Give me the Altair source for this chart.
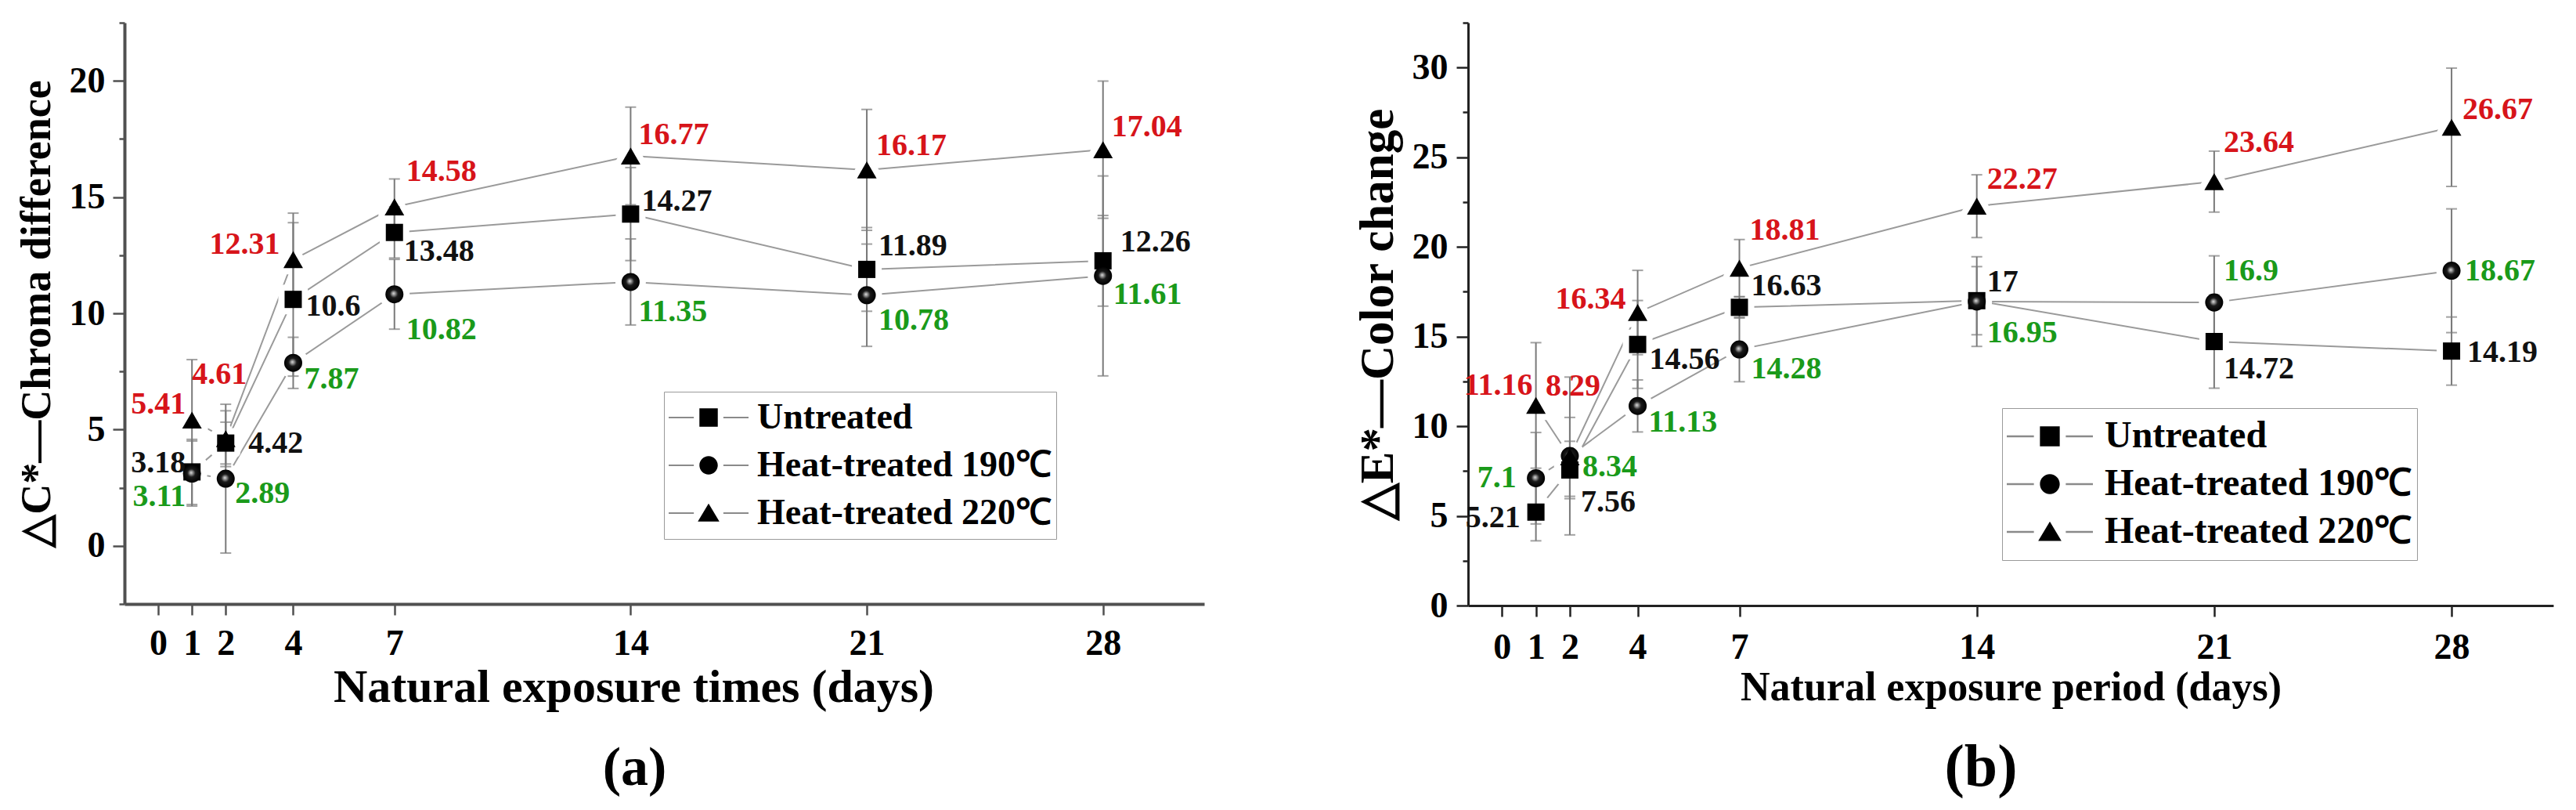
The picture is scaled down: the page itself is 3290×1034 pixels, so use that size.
import altair as alt
import pandas as pd

# ---------------- data ----------------
DAYS = [1, 2, 4, 7, 14, 21, 28]
SERIES = ["Untreated", "Heat-treated 190℃", "Heat-treated 220℃"]
X_TICKS = [0, 1, 2, 4, 7, 14, 21, 28]

# Panel (a): Chroma difference
DC_UNTREATED = [3.18, 4.42, 10.6, 13.48, 14.27, 11.89, 12.26]
DC_190 = [3.11, 2.89, 7.87, 10.82, 11.35, 10.78, 11.61]
DC_220 = [5.41, 4.61, 12.31, 14.58, 16.77, 16.17, 17.04]
DC_UNTREATED_SD = [1.4, 0.9, 3.3, 1.1, 2.0, 1.8, 1.95]
DC_190_SD = [1.4, 3.2, 1.1, 1.5, 1.85, 2.2, 4.3]
DC_220_SD = [2.6, 1.2, 2.0, 1.2, 2.1, 2.6, 2.95]

# Panel (b): Color change
DE_UNTREATED = [5.21, 7.56, 14.56, 16.63, 17, 14.72, 14.19]
DE_190 = [7.1, 8.34, 11.13, 14.28, 16.95, 16.9, 18.67]
DE_220 = [11.16, 8.29, 16.34, 18.81, 22.27, 23.64, 26.67]
DE_UNTREATED_SD = [1.6, 1.6, 2.45, 0.6, 1.9, 2.6, 1.9]
DE_190_SD = [2.55, 4.4, 1.45, 1.8, 2.5, 2.6, 3.45]
DE_220_SD = [3.5, 2.2, 2.35, 1.6, 1.75, 1.7, 3.3]

# ---------------- style ----------------
FONT = "Liberation Serif"
LABEL_COLORS = {"Untreated": "#111111", "Heat-treated 190℃": "#1a9a1a", "Heat-treated 220℃": "#d7141a"}
SHAPES = {"Untreated": "square", "Heat-treated 190℃": "circle", "Heat-treated 220℃": "triangle-up"}
SIZES = {"Untreated": 484, "Heat-treated 190℃": 530, "Heat-treated 220℃": 625}
BALL = {
    "gradient": "radial",
    "x1": 0.45, "y1": 0.45, "r1": 0,
    "x2": 0.5, "y2": 0.5, "r2": 0.5,
    "stops": [
        {"offset": 0, "color": "#e0e0e0"},
        {"offset": 0.2, "color": "#8a8a8a"},
        {"offset": 0.45, "color": "#1a1a1a"},
        {"offset": 1, "color": "#000000"},
    ],
}
# legend glyph: grey line segments either side of a black marker (one filled path)
_LINES = "M-1,-0.022H-0.37V0.022H-1Z M0.37,-0.022H1V0.022H0.37Z "
LEGEND_PATHS = [
    _LINES + "M-0.23,-0.23H0.23V0.23H-0.23Z",
    _LINES + "M-0.23,0A0.23,0.23,0,1,0,0.23,0A0.23,0.23,0,1,0,-0.23,0Z",
    _LINES + "M0,-0.24L0.27,0.21L-0.27,0.21Z",
]
LEGEND_FILL = {
    "gradient": "linear", "x1": 0, "y1": 0, "x2": 1, "y2": 0,
    "stops": [
        {"offset": 0, "color": "#8a8a8a"},
        {"offset": 0.33, "color": "#8a8a8a"},
        {"offset": 0.33, "color": "#000000"},
        {"offset": 0.67, "color": "#000000"},
        {"offset": 0.67, "color": "#8a8a8a"},
        {"offset": 1, "color": "#8a8a8a"},
    ],
}

# per-point label placement (align, dx, dy) in pixels
LABEL_STYLE_A = {
    "Untreated": [("right", -8, -11), ("left", 29, 0), ("left", 16, 9), ("left", 12, 24),
                  ("left", 14, -16), ("left", 15, -30), ("left", 22, -24)],
    "Heat-treated 190℃": [("right", -8, 30), ("left", 12, 19), ("left", 14, 21), ("left", 15, 45),
                          ("left", 10, 38), ("left", 15, 32), ("left", 13, 24)],
    "Heat-treated 220℃": [("right", -8, -20), ("left", -43, -82), ("right", -17, -19), ("left", 15, -45),
                          ("left", 10, -27), ("left", 12, -31), ("left", 11, -29)],
}
LABEL_STYLE_B = {
    "Untreated": [("right", -20, 7), ("left", 14, 41), ("left", 15, 19), ("left", 15, -27),
                  ("left", 13, -24), ("left", 12, 35), ("left", 20, 2)],
    "Heat-treated 190℃": [("right", -25, 0), ("left", 16, 14), ("left", 14, 21), ("left", 15, 25),
                          ("left", 13, 40), ("left", 12, -40), ("left", 17, 0)],
    "Heat-treated 220℃": [("right", -4, -26), ("left", -31, -90), ("right", -15, -17), ("left", 13, -48),
                          ("left", 13, -34), ("left", 12, -50), ("left", 14, -22)],
}


def make_df(vals, sds):
    rows = []
    for s, v, sd in zip(SERIES, vals, sds):
        for d, y, e in zip(DAYS, v, sd):
            rows.append({"day": d, "series": s, "value": y, "low": y - e, "high": y + e,
                         "label": f"{y:g}"})
    return pd.DataFrame(rows)


def panel(df, cfg):
    xscale = alt.Scale(domain=[-1, 31], nice=False, zero=False)
    yscale = alt.Scale(domain=cfg["ydom"], nice=False, zero=False)
    n = int(round((cfg["ydom"][1] - cfg["ydom"][0]) / 2.5))
    yvals = [cfg["ydom"][0] + 2.5 * i for i in range(n + 1)]
    xaxis_kw = dict(
        values=X_TICKS, title=cfg["xtitle"], grid=False,
        domainColor=cfg["axcolor"], domainWidth=cfg["axwidth"],
        tickColor=cfg["axcolor"], tickWidth=2.5, tickSize=14,
        labelFont=FONT, labelFontSize=46, labelFontWeight="bold", labelColor="black",
        labelPadding=cfg["xlabpad"], labelOverlap=False, labelFlush=False,
        titleFont=FONT, titleFontSize=cfg["xtitlesize"], titleFontWeight="bold", titleColor="black",
        titlePadding=cfg["xtitlepad"],
    )
    if "titleX" in cfg:
        xaxis_kw["titleX"] = cfg["titleX"]
    xaxis = alt.Axis(**xaxis_kw)
    yaxis = alt.Axis(
        values=yvals, title=cfg["ytitle"], grid=False,
        domainColor=cfg["axcolor"], domainWidth=cfg["axwidth"],
        tickColor=cfg["axcolor"], tickWidth=2.5,
        tickSize={"condition": {"test": "datum.value % 5 === 0", "value": 15}, "value": 7},
        labelExpr="datum.value % 5 === 0 ? datum.label : ''",
        labelFont=FONT, labelFontSize=46, labelFontWeight="bold", labelColor="black",
        labelPadding=cfg["ylabpad"],
        titleFont=FONT, titleFontSize=cfg["ytitlesize"], titleFontWeight="bold", titleColor="black",
        titlePadding=cfg["ytitlepad"],
    )
    X = alt.X("day:Q", scale=xscale, axis=xaxis)
    Y = alt.Y("value:Q", scale=yscale, axis=yaxis)
    base = alt.Chart(df)

    layers = []
    layers.append(base.mark_line(color="#9a9a9a", strokeWidth=2).encode(
        x=X, y=Y, detail="series:N", order="day:Q"))
    for s in SERIES:
        layers.append(base.transform_filter(alt.datum.series == s).mark_point(
            shape=SHAPES[s], filled=True, fill="white", stroke="white", strokeWidth=16,
            strokeJoin="round", size=SIZES[s], opacity=1).encode(x=X, y=Y))
    layers.append(base.mark_rule(color="#7a7a7a", strokeWidth=2).encode(
        x=X, y=alt.Y("low:Q", scale=yscale, axis=yaxis), y2="high:Q"))
    for f in ["low", "high"]:
        layers.append(base.mark_tick(orient="horizontal", size=14, thickness=2, color="#7a7a7a").encode(
            x=X, y=alt.Y(f"{f}:Q", scale=yscale, axis=yaxis)))
    for s in SERIES:
        kw = dict(shape=SHAPES[s], filled=True, size=SIZES[s], opacity=1, strokeWidth=0)
        kw["fill"] = BALL if s == "Heat-treated 190℃" else "black"
        layers.append(base.transform_filter(alt.datum.series == s).mark_point(**kw).encode(x=X, y=Y))

    lsize = cfg["legsize"]
    legend = alt.Legend(
        orient="none", legendX=cfg["legX"], legendY=cfg["legY"],
        strokeColor="#9a9a9a", fillColor="white", padding=6,
        rowPadding=cfg["rowpad"], clipHeight=cfg["cliph"], symbolOffset=0,
        labelOffset=cfg["laboff"], labelFont=FONT, labelFontSize=cfg["legfont"],
        labelFontWeight="bold", labelColor="black", labelLimit=2000,
        symbolSize=lsize, symbolStrokeWidth=0, symbolOpacity=1,
    )
    layers.append(base.transform_filter("false").mark_point(
        filled=True, fill=LEGEND_FILL, strokeWidth=0, opacity=1, size=lsize).encode(
        x=X, y=Y,
        shape=alt.Shape("series:N", scale=alt.Scale(domain=SERIES, range=LEGEND_PATHS),
                        legend=legend, title=None)))

    style = cfg["labels"]
    for s in SERIES:
        for d, (al, dx, dy) in zip(DAYS, style[s]):
            layers.append(base.transform_filter((alt.datum.series == s) & (alt.datum.day == d)).mark_text(
                align=al, baseline="middle", dx=dx, dy=dy, font=FONT, fontSize=40,
                fontWeight="bold", color=LABEL_COLORS[s]).encode(x=X, y=Y, text="label:N"))

    return alt.layer(*layers).properties(
        width=cfg["w"], height=cfg["h"],
        title=alt.TitleParams(cfg["caption"], orient="bottom", anchor="middle", dx=-38,
                              offset=cfg["capoff"], font=FONT, fontSize=cfg["capsize"],
                              fontWeight="bold", color="black"),
    )


cfg_a = dict(
    ydom=[-2.5, 22.5], w=1379, h=742, axcolor="#505050", axwidth=4,
    xtitle="Natural exposure times (days)", xtitlesize=60, xlabpad=14, xtitlepad=4, titleX=650,
    ytitle="△C*—Chroma difference", ytitlesize=54, ylabpad=10, ytitlepad=14,
    legX=689, legY=471, legsize=10404, rowpad=7, cliph=54, laboff=11, legfont=46,
    labels=LABEL_STYLE_A, caption="(a)", capsize=70, capoff=40,
)
cfg_b = dict(
    ydom=[0, 32.5], w=1386, h=744, axcolor="#222222", axwidth=3,
    xtitle="Natural exposure period (days)", xtitlesize=52, xlabpad=17, xtitlepad=3,
    ytitle="△E*—Color change", ytitlesize=61, ylabpad=11, ytitlepad=12,
    legX=682, legY=492, legsize=12100, rowpad=1, cliph=60, laboff=15, legfont=48,
    labels=LABEL_STYLE_B, caption="(b)", capsize=76, capoff=40,
)

df_a = make_df([DC_UNTREATED, DC_190, DC_220], [DC_UNTREATED_SD, DC_190_SD, DC_220_SD])
df_b = make_df([DE_UNTREATED, DE_190, DE_220], [DE_UNTREATED_SD, DE_190_SD, DE_220_SD])

chart = alt.hconcat(panel(df_a, cfg_a), panel(df_b, cfg_b), spacing=191).resolve_scale(
    shape="independent", x="independent", y="independent"
).resolve_legend(shape="independent").properties(
    padding={"left": 12, "top": 19, "right": 5, "bottom": 5},
    background="white",
).configure_view(stroke=None)

chart.save("out.html", embed_options={"renderer": "svg", "actions": False})
